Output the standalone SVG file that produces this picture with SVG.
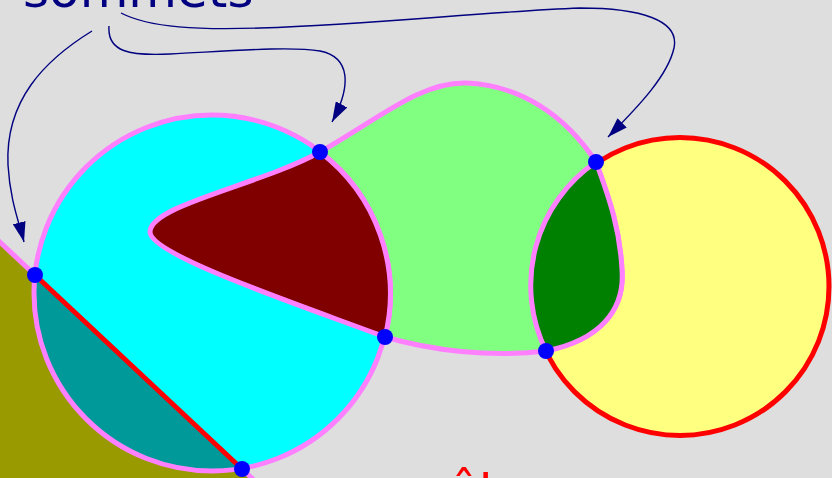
<svg xmlns="http://www.w3.org/2000/svg" width="832" height="478" viewBox="0 0 832 478">
<defs>
<marker id="ah" viewBox="0 0 20 13" refX="20" refY="6.5" markerUnits="userSpaceOnUse" markerWidth="20" markerHeight="13" orient="auto">
<path d="M0,0 L20,6.5 L0,13 z" fill="#000080"/>
</marker>
<clipPath id="cyanclip"><circle cx="212" cy="293" r="178"/></clipPath>
</defs>
<style>
.edge{stroke:#ff80ff;stroke-width:5;stroke-linejoin:round}
.red{stroke:#ff0000;stroke-width:5}
.vert{fill:#0000ff}
.conn{fill:none;stroke:#000080;stroke-width:1.4;marker-end:url(#ah)}
.lbl{font-family:"DejaVu Sans","Verdana",sans-serif;font-size:50px}
</style>
<rect width="832" height="478" fill="#dedede"/>
<g id="olive">
<path d="M-5,237.5 L256,482 L-5,482 Z" fill="#999900"/>
<path d="M-5,237.5 L35,275" class="edge" fill="none"/>
<path d="M242,469 L256,482" class="edge" fill="none"/>
</g>
<g id="cyan">
<circle cx="212" cy="293" r="178" fill="#00ffff"/>
<path d="M-5,237.5 L256,482 L-5,482 Z" fill="#009999" clip-path="url(#cyanclip)"/>
<circle cx="212" cy="293" r="178" fill="none" class="edge"/>
</g>
<g id="yellow">
<circle cx="680" cy="286.5" r="149" fill="#ffff80" class="red"/>
</g>
<g id="green">
<path d="M320,152 C 380,118 420,82 466,83 C 520,85 565,115 596,162 C 610,200 620,230 622,270 C 625,310 600,340 546,351 C 490,358 430,350 385,337 A 178 178 0 0 0 320,152 Z" fill="#80ff80" class="edge"/>
</g>
<g id="darkred">
<path d="M320,152 C 260,185 150,205 150,232 C 150,255 300,305 385,337 A 178 178 0 0 0 320,152 Z" fill="#800000" class="edge"/>
</g>
<g id="darkgreen">
<path d="M596,162 C 610,200 620,230 622,270 C 625,310 600,340 546,351 A 149 149 0 0 1 596,162 Z" fill="#008000" class="edge"/>
</g>
<g id="chord">
<path d="M35,275 L242,469" class="red" fill="none"/>
</g>
<g id="vertices">
<circle class="vert" cx="35" cy="275" r="8"/>
<circle class="vert" cx="242" cy="469" r="8"/>
<circle class="vert" cx="320" cy="152" r="8"/>
<circle class="vert" cx="385" cy="337" r="8"/>
<circle class="vert" cx="596" cy="162" r="8"/>
<circle class="vert" cx="546" cy="351" r="8"/>
</g>
<g id="connectors">
<path class="conn" d="M92,31 C 45,60 5,100 8,165 C 10,200 19,222 24,242"/>
<path class="conn" d="M109,26 C 107,52 130,56 170,54 C 230,51 290,46 320,51 C 350,57 352,85 332,122"/>
<path class="conn" d="M121,13 C 150,28 200,30 260,28 C 380,24 480,12 580,8 C 640,8 680,20 674,48 C 668,75 640,105 608,137"/>
</g>
<g id="labels">
<text class="lbl" x="23" y="7" fill="#000080">sommets</text>
<text class="lbl" x="398" y="507" fill="#ff0000">arêtes</text>
</g>
</svg>
